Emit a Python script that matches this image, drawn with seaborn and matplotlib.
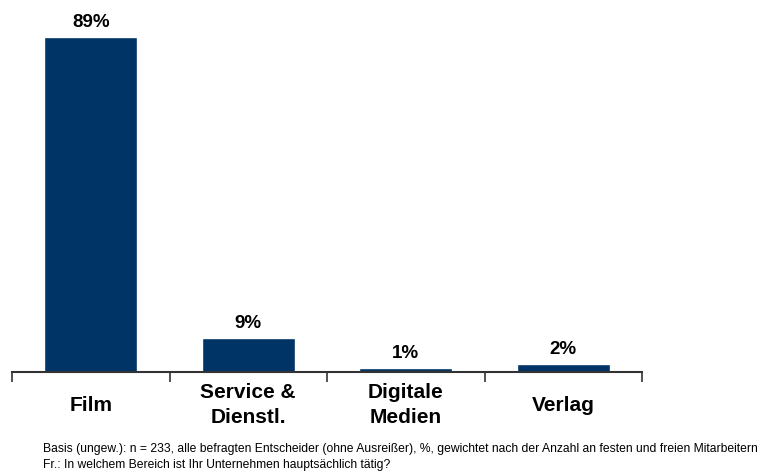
import matplotlib
matplotlib.use("Agg")
import matplotlib.pyplot as plt
import seaborn as sns
import pandas as pd

categories = ["Film", "Service &\nDienstl.", "Digitale\nMedien", "Verlag"]
shares = [89, 9, 1, 2]
value_labels = ["89%", "9%", "1%", "2%"]
footnote = ("Basis (ungew.): n = 233, alle befragten Entscheider (ohne Ausreißer), %, "
            "gewichtet nach der Anzahl an festen und freien Mitarbeitern\n"
            "Fr.: In welchem Bereich ist Ihr Unternehmen hauptsächlich tätig?")

sns.set_style("white")
plt.rcParams["font.family"] = ["Liberation Sans", "DejaVu Sans"]
plt.rcParams["text.color"] = "black"
plt.rcParams["xtick.labelcolor"] = "black"

df = pd.DataFrame({"Bereich": categories, "Anteil": shares})

fig = plt.figure(figsize=(7.6, 4.71), dpi=100)
ax = fig.add_axes([12 / 760, 99 / 471, 630 / 760, 338.8 / 471])

sns.barplot(data=df, x="Bereich", y="Anteil", color="#003366", width=0.59,
            saturation=1, ax=ax)

ax.set_xlim(-0.5, 3.5)
ax.set_ylim(0, 90)

for i, (v, lab) in enumerate(zip(shares, value_labels)):
    ax.annotate(lab, (i, v), xytext=(0, 4.5), textcoords="offset points",
                ha="center", va="bottom", fontsize=13.5, fontweight="bold",
                color="black", annotation_clip=False)

# boundary ticks between categories, labels at category centres
ax.set_xticks([-0.5, 0.5, 1.5, 2.5, 3.5])
ax.set_xticklabels([])
ax.set_xticks(range(len(categories)), minor=True)
ax.set_xticklabels(categories, minor=True, fontsize=15, fontweight="bold",
                   va="center", linespacing=1.42, color="black")
ax.tick_params(axis="x", which="major", direction="out", length=7, width=1.2,
               color="#333333", bottom=True)
ax.tick_params(axis="x", which="minor", length=0, pad=24)
ax.set_yticks([])
ax.set_xlabel("")
ax.set_ylabel("")

for side in ["top", "right", "left"]:
    ax.spines[side].set_visible(False)
ax.spines["bottom"].set_color("#333333")
ax.spines["bottom"].set_linewidth(1.5)

fig.text(43 / 760, 1 - 443 / 471, footnote, fontsize=8.75, va="top", ha="left",
         linespacing=1.45, color="black")

fig.savefig("out.png", dpi=100)
